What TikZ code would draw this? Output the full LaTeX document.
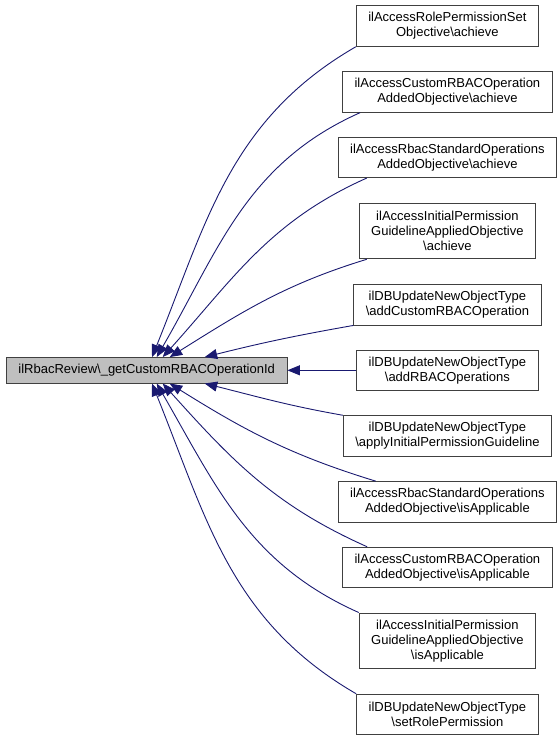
\documentclass[tikz,border=0pt]{standalone}
\usepackage{fontspec}
\setmainfont{Liberation Sans}
\usetikzlibrary{arrows.meta}
\definecolor{edgeblue}{HTML}{191970}
\definecolor{boxgray}{HTML}{BFBFBF}
\definecolor{rimgray}{HTML}{404040}

\begin{document}
\begin{tikzpicture}[x=1pt,y=1pt,
    fn/.style={draw=rimgray, line width=0.9pt, align=center, inner xsep=12pt, inner ysep=2pt,
               minimum height=40.6pt, font=\fontsize{13}{15}\selectfont},
    fnthree/.style={fn, minimum height=55.7pt},
    call/.style={edgeblue, line width=0.9pt, -{Triangle[length=12.5pt,width=10pt]}}]
                    \useasboundingbox (0,0) rectangle (560,-737);
                    \node[fn, fill=boxgray, minimum height=25.5pt] (a) at (146.7,-370.3) {ilRbacReview\textbackslash\_getCustomRBACOperationId};
                    \node[fn] (b) at (447.4,-26.0) {ilAccessRolePermissionSet\\Objective\textbackslash achieve};
                    \node[fn] (c) at (447.4,-91.9) {ilAccessCustomRBACOperation\\AddedObjective\textbackslash achieve};
                    \node[fn] (d) at (447.4,-157.3) {ilAccessRbacStandardOperations\\AddedObjective\textbackslash achieve};
                    \node[fnthree] (e) at (447.4,-231.0) {ilAccessInitialPermission\\GuidelineAppliedObjective\\\textbackslash achieve};
                    \node[fn] (f) at (447.4,-304.7) {ilDBUpdateNewObjectType\\\textbackslash addCustomRBACOperation};
                    \node[fn] (g) at (447.4,-370.3) {ilDBUpdateNewObjectType\\\textbackslash addRBACOperations};
                    \node[fn] (h) at (447.4,-436.0) {ilDBUpdateNewObjectType\\\textbackslash applyInitialPermissionGuideline};
                    \node[fn] (i) at (447.4,-501.9) {ilAccessRbacStandardOperations\\AddedObjective\textbackslash isApplicable};
                    \node[fn] (j) at (447.4,-567.5) {ilAccessCustomRBACOperation\\AddedObjective\textbackslash isApplicable};
                    \node[fnthree] (k) at (447.4,-640.8) {ilAccessInitialPermission\\GuidelineAppliedObjective\\\textbackslash isApplicable};
                    \node[fn] (l) at (447.4,-714.5) {ilDBUpdateNewObjectType\\\textbackslash setRolePermission};

                    \draw[call] (b.south west) to[out=210,in=68] ([xshift=5.3pt]a.north);
                    \draw[call] ([xshift=18pt]c.south west) to[out=204,in=60] ([xshift=10pt]a.north);
                    \draw[call] ([xshift=29pt]d.south west) to[out=204,in=48] ([xshift=16pt]a.north);
                    \draw[call] ([xshift=8pt]e.south west) to[out=197,in=32] ([xshift=23pt]a.north);
                    \draw[call] (f.south west) to[out=190,in=14] ([xshift=58pt]a.north);
                    \draw[call] (g) -- (a);
                    \draw[call] (h.north west) to[out=170,in=-14] ([xshift=58pt]a.south);
                    \draw[call] ([xshift=38pt]i.north west) to[out=163,in=-32] ([xshift=23pt]a.south);
                    \draw[call] ([xshift=25pt]j.north west) to[out=156,in=-48] ([xshift=16pt]a.south);
                    \draw[call] (k.north west) to[out=156,in=-60] ([xshift=10pt]a.south);
                    \draw[call] (l.north west) to[out=150,in=-68] ([xshift=5.3pt]a.south);
\end{tikzpicture}
\end{document}
